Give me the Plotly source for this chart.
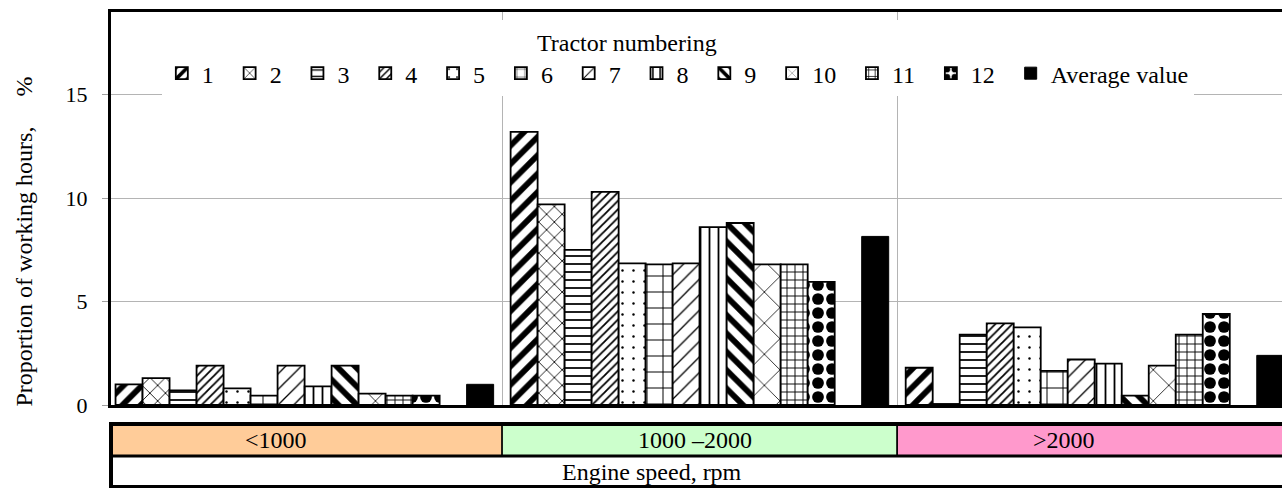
import plotly.graph_objects as go

categories = ["<1000", "1000 \u20132000", ">2000"]
tractor_names = ["1", "2", "3", "4", "5", "6", "7", "8", "9", "10", "11", "12"]
tractor_values = [
    [1.0, 13.2, 1.8],
    [1.3, 9.7, 0.05],
    [0.7, 7.5, 3.4],
    [1.9, 10.3, 3.95],
    [0.8, 6.85, 3.75],
    [0.45, 6.8, 1.65],
    [1.9, 6.85, 2.2],
    [0.9, 8.6, 2.0],
    [1.9, 8.8, 0.45],
    [0.55, 6.8, 1.9],
    [0.45, 6.8, 3.4],
    [0.45, 5.95, 4.4],
]
average_name = "Average value"
average_values = [1.0, 8.15, 2.4]
y_ticks = [0, 5, 10, 15]
cell_colors = ["#FFCC99", "#CCFFCC", "#FF99CC"]
axis_title = "Engine speed, rpm"
legend_title = "Tractor numbering"
y_title = "Proportion of working hours,\u00a0\u00a0\u00a0\u00a0\u00a0%"

patterns = [
    dict(shape="/", size=13, solidity=0.45),
    dict(shape="x", size=11, solidity=0.15),
    dict(shape="-", size=8, solidity=0.22),
    dict(shape="/", size=6, solidity=0.3),
    dict(shape=".", size=11, solidity=0.04),
    dict(shape="+", size=16, solidity=0.12),
    dict(shape="/", size=11, solidity=0.12),
    dict(shape="|", size=9, solidity=0.2),
    dict(shape="\\", size=13, solidity=0.45),
    dict(shape="x", size=22, solidity=0.07),
    dict(shape="+", size=8, solidity=0.22),
    dict(shape=".", size=14, solidity=0.55),
]

FONT = "Liberation Serif, Times New Roman, serif"
PAD = "\u00a0\u2009"
fig = go.Figure()
for name, vals, pat in zip(tractor_names, tractor_values, patterns):
    fig.add_trace(go.Bar(
        x=categories, y=vals, name=name + PAD,
        marker=dict(color="white",
                    pattern=dict(fillmode="replace", bgcolor="white", fgcolor="black", **pat),
                    line=dict(color="black", width=1.8)),
    ))
# empty slot between tractor 12 and the average bar
fig.add_trace(go.Bar(x=categories, y=[0, 0, 0], showlegend=False, hoverinfo="skip",
                     marker=dict(color="rgba(0,0,0,0)", line=dict(width=0))))
fig.add_trace(go.Bar(x=categories, y=average_values, name=average_name,
                     marker=dict(color="black", line=dict(color="black", width=1))))

fig.update_layout(
    width=1282, height=488,
    margin=dict(l=111, r=0, t=12, b=83),
    paper_bgcolor="white", plot_bgcolor="white",
    barmode="group", bargap=0.043, bargroupgap=0,
    font=dict(family=FONT, color="black", size=22),
    showlegend=True,
    legend=dict(
        orientation="h", x=0.0434, xanchor="left", y=0.98, yanchor="top",
        bgcolor="white", borderwidth=0,
        font=dict(family=FONT, size=24, color="black"),
        title=dict(text=legend_title + "\u00a0" * 17, side="top center",
                   font=dict(family=FONT, size=24, color="black")),
        itemwidth=30, traceorder="normal",
    ),
    xaxis=dict(
        type="category", range=[-0.49, 2.474],
        showticklabels=False, ticks="", tickson="boundaries",
        showgrid=True, gridcolor="#b4b4b4", gridwidth=1,
        showline=True, linecolor="black", linewidth=2.5, mirror=True,
        zeroline=False, fixedrange=True,
    ),
    yaxis=dict(
        range=[0, 19], tickvals=y_ticks, ticks="outside", ticklen=6,
        tickcolor="#a0a0a0", tickwidth=1, ticklabelstandoff=10,
        tickfont=dict(family=FONT, size=22, color="black"),
        showgrid=True, gridcolor="#b4b4b4", gridwidth=1,
        showline=True, linecolor="black", linewidth=3,
        zeroline=False, fixedrange=True,
    ),
)

y_top, y_mid, y_bot = -0.0483, -0.1298, -0.2087
shapes = []
for i, c in enumerate(cell_colors):
    shapes.append(dict(type="rect", xref="x", yref="paper", x0=i - 0.5, x1=i + 0.5,
                       y0=y_mid, y1=y_top, fillcolor=c, line=dict(color="black", width=1.5),
                       layer="above"))
shapes.append(dict(type="rect", xref="paper", yref="paper", x0=0, x1=1.01, y0=y_bot, y1=y_mid,
                   fillcolor="white", line=dict(color="black", width=2), layer="above"))
shapes.append(dict(type="rect", xref="paper", yref="paper", x0=0, x1=1.01, y0=y_bot, y1=y_top,
                   fillcolor="rgba(0,0,0,0)", line=dict(color="black", width=4), layer="above"))
shapes.append(dict(type="line", xref="paper", yref="paper", x0=0, x1=1.01, y0=y_mid, y1=y_mid,
                   line=dict(color="black", width=3), layer="above"))
fig.update_layout(shapes=shapes)

label_shift = [-29, -5, -31]
for i, (cat, dx) in enumerate(zip(categories, label_shift)):
    fig.add_annotation(x=i, y=(y_top + y_mid) / 2, xref="x", yref="paper", text=cat,
                       showarrow=False, xshift=dx, yanchor="middle",
                       font=dict(family=FONT, size=24, color="black"))
fig.add_annotation(x=0.462, y=(y_mid + y_bot) / 2, xref="paper", yref="paper", text=axis_title,
                   showarrow=False, yanchor="middle", font=dict(family=FONT, size=24, color="black"))
fig.add_annotation(x=-0.0751, y=0.416, xref="paper", yref="paper", text=y_title, textangle=-90,
                   showarrow=False, xanchor="center", yanchor="middle",
                   font=dict(family=FONT, size=24, color="black"))

fig.write_html("out.html", config={"displayModeBar": False},
               post_script="document.body.style.margin='0';document.body.style.padding='0';")
